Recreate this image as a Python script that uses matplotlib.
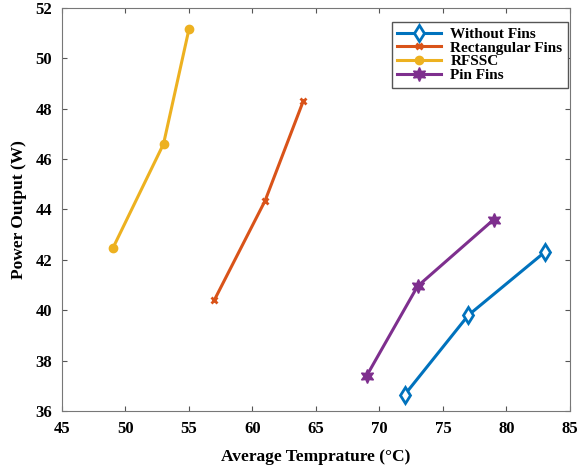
import matplotlib
matplotlib.use("Agg")
import matplotlib.pyplot as plt

plt.rcParams['font.family'] = ['Liberation Serif', 'DejaVu Serif']
plt.rcParams['font.weight'] = 'bold'

# Datos
nombres = ['Without Fins', 'Rectangular Fins', 'RFSSC', 'Pin Fins']
temp_sin_aletas = [72, 77, 83]
pot_sin_aletas = [36.65, 39.8, 42.3]
temp_rect = [57, 61, 64]
pot_rect = [40.4, 44.35, 48.3]
temp_rfssc = [49, 53, 55]
pot_rfssc = [42.45, 46.6, 51.15]
temp_pin = [69, 73, 79]
pot_pin = [37.4, 40.95, 43.6]

colores = ['#0072BD', '#D95319', '#EDB120', '#7E2F8E']

fig = plt.figure(figsize=(5.84, 4.68), dpi=100)
ax = fig.add_axes([0.106, 0.122, 0.87, 0.861])

ax.plot(temp_sin_aletas, pot_sin_aletas, color=colores[0], lw=2.2, marker='d',
        ms=8, mfc='white', mec=colores[0], mew=2, label=nombres[0])
ax.plot(temp_rect, pot_rect, color=colores[1], lw=2.2, marker='x',
        ms=5, mew=2, label=nombres[1])
ax.plot(temp_rfssc, pot_rfssc, color=colores[2], lw=2.2, marker='o',
        ms=6, label=nombres[2])
ax.plot(temp_pin, pot_pin, color=colores[3], lw=2.2, marker=(6, 1, 0),
        ms=10, label=nombres[3])

ax.set_xlim(45, 85)
ax.set_ylim(36, 52)
ax.set_xticks(range(45, 86, 5))
ax.set_yticks(range(36, 53, 2))
ax.tick_params(direction='in', top=True, right=True, labelsize=12,
               color='#555555', pad=7)
for s in ax.spines.values():
    s.set_color('#777777')

ax.set_xlabel('Average Temprature (°C)', fontsize=12.5, fontweight='bold', labelpad=9)
ax.set_ylabel('Power Output (W)', fontsize=12.5, fontweight='bold', labelpad=6)

leg = ax.legend(loc='upper right', fontsize=11, fancybox=False, framealpha=1,
                edgecolor='#555555', handlelength=2.9, borderaxespad=0,
                labelspacing=0.0, handletextpad=0.6, borderpad=0.35,
                bbox_to_anchor=(0.996, 0.965))

fig.savefig('out.png', dpi=100)
